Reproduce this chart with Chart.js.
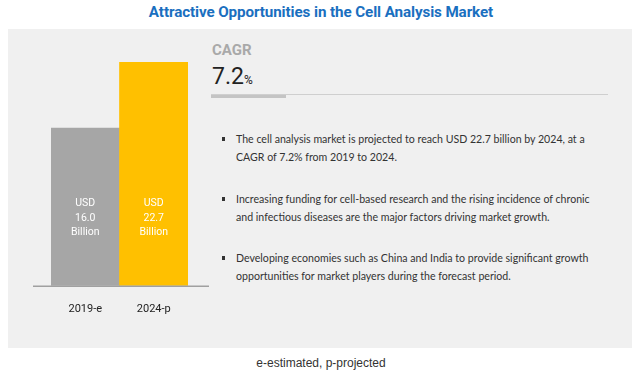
<!DOCTYPE html>
<html>
<head>
<meta charset="utf-8">
<script src="https://cdn.jsdelivr.net/npm/chart.js@4.4.0/dist/chart.umd.min.js"></script>
<style>
  body { margin: 0; background: #fff; }
  #page { position: relative; width: 642px; height: 374px; overflow: hidden; font-family: Roboto, sans-serif; }
  .abs { position: absolute; white-space: nowrap; }
  #title { left: 0; top: 3px; width: 642px; text-align: center; font-family: Roboto, sans-serif; font-weight: bold; font-size: 15.2px; color: #1a6fbf; letter-spacing: -0.1px; }
  #panel { left: 8px; top: 29px; width: 624px; height: 319px; background: #f0f0f0; }
  #chartBox { left: 0; top: 0; width: 240px; height: 374px; }
  #cagrLbl { left: 212px; top: 41px; font-family: Roboto, sans-serif; font-weight: bold; font-size: 15px; color: #a9a9a9; }
  #cagrVal { left: 212px; top: 63px; font-family: Roboto, sans-serif; font-size: 23px; color: #222; }
  #cagrVal span { font-size: 12px; }
  #thin { left: 211px; top: 94px; width: 397px; height: 1px; background: #cfcfcf; }
  #thick { left: 211px; top: 95px; width: 75px; height: 3px; background: #c4c4c4; }
  .bullet { left: 236px; font-family: Lato, sans-serif; font-size: 10.6px; line-height: 18px; color: #333; }
  .sq { position: absolute; left: -14px; top: 7px; width: 3px; height: 4px; background: #333; }
  #foot { left: 0; top: 356px; width: 642px; text-align: center; font-family: "Liberation Sans", Arial, sans-serif; font-size: 12px; color: #333; }
</style>
</head>
<body>
<div id="page">
  <div class="abs" id="title">Attractive Opportunities in the Cell Analysis Market</div>
  <div class="abs" id="panel"></div>
  <div class="abs" id="cagrLbl">CAGR</div>
  <div class="abs" id="cagrVal">7.2<span>%</span></div>
  <div class="abs" id="thin"></div>
  <div class="abs" id="thick"></div>
  <div class="abs bullet" style="top:130px"><div class="sq"></div>The cell analysis market is projected to reach USD 22.7 billion by 2024, at a<br>CAGR of 7.2% from 2019 to 2024.</div>
  <div class="abs bullet" style="top:190px"><div class="sq"></div>Increasing funding for cell-based research and the rising incidence of chronic<br>and infectious diseases are the major factors driving market growth.</div>
  <div class="abs bullet" style="top:249px"><div class="sq"></div>Developing economies such as China and India to provide significant growth<br>opportunities for market players during the forecast period.</div>
  <div class="abs" id="foot">e-estimated, p-projected</div>
  <div class="abs" id="chartBox"><canvas id="chart_1"></canvas></div>
</div>
<script>
const years = ["2019-e", "2024-p"];
const marketSize = [16.0, 22.7];
const barColors = ["#a6a6a6", "#ffc000"];

// white "USD / value / Billion" text inside each bar, plus the wider baseline
const barText = {
  id: "barText",
  afterDatasetsDraw(chart) {
    const ctx = chart.ctx;
    const area = chart.chartArea;
    ctx.save();
    ctx.strokeStyle = "#a0a0a0";
    ctx.lineWidth = 1.5;
    ctx.beginPath();
    ctx.moveTo(area.left - 18, area.bottom + 0.5);
    ctx.lineTo(area.right + 21, area.bottom + 0.5);
    ctx.stroke();
    ctx.fillStyle = "#ffffff";
    ctx.font = "10.5px Roboto";
    ctx.textAlign = "center";
    ctx.textBaseline = "middle";
    chart.getDatasetMeta(0).data.forEach((bar, i) => {
      ctx.fillText("USD", bar.x, area.bottom - 82);
      ctx.fillText(marketSize[i].toFixed(1), bar.x, area.bottom - 67);
      ctx.fillText("Billion", bar.x, area.bottom - 53);
    });
    ctx.restore();
  }
};

const ctx1 = document.getElementById("chart_1").getContext("2d");
var myChart1 = new Chart(ctx1, {
  type: "bar",
  data: {
    labels: years,
    datasets: [
      {
        data: marketSize,
        backgroundColor: barColors,
        borderWidth: 0,
        barPercentage: 1,
        categoryPercentage: 1,
      },
    ],
  },
  options: {
    maintainAspectRatio: false,
    responsive: true,
    animation: false,
    layout: {
      padding: { left: 51, right: 52, top: 62, bottom: 41 },
    },
    plugins: {
      legend: { display: false },
      tooltip: { enabled: false },
    },
    scales: {
      y: {
        display: false,
        min: 0,
        max: 22.7,
      },
      x: {
        grid: { display: false, drawTicks: false },
        border: { display: false },
        ticks: {
          padding: 17,
          color: "#222",
          font: { family: "Roboto", size: 11 },
        },
      },
    },
  },
  plugins: [barText],
});
</script>
</body>
</html>
